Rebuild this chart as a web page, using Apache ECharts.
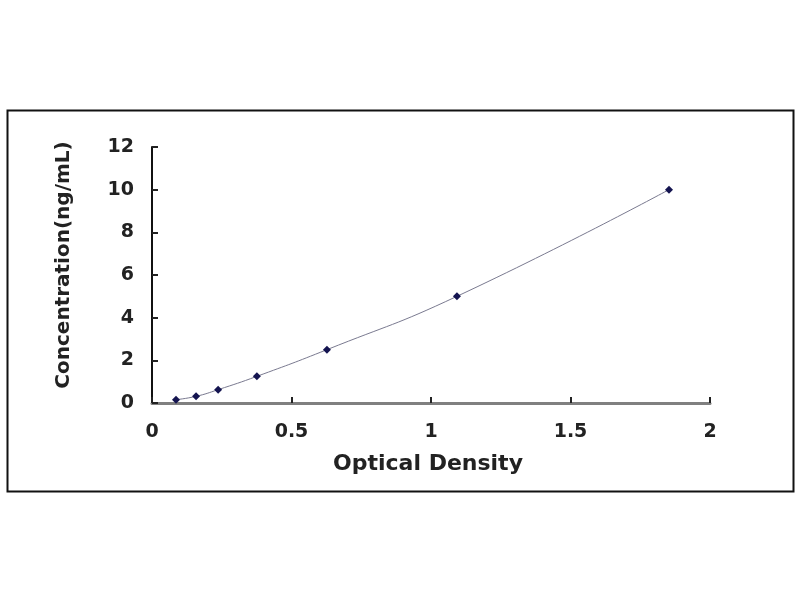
<!DOCTYPE html>
<html><head><meta charset="utf-8">
<script src="https://cdn.jsdelivr.net/npm/echarts@6/dist/echarts.min.js"></script>
<style>html,body{margin:0;padding:0;background:#fff}#c{width:800px;height:600px}</style>
</head><body><div id="c"></div>
<script>
const od = [0.086, 0.158, 0.237, 0.376, 0.627, 1.093, 1.853];
const conc = [0.156, 0.312, 0.625, 1.25, 2.5, 5, 10];
const xTicks = [0, 0.5, 1, 1.5, 2];
const yTicks = [0, 2, 4, 6, 8, 10, 12];

const chart = echarts.init(document.getElementById('c'), null, {renderer: 'canvas'});
const font = '"DejaVu Sans", Arial, sans-serif';
chart.setOption({
  animation: false,
  backgroundColor: '#fff',
  graphic: [{
    type: 'rect', left: 5, top: 108, shape: {width: 786, height: 381},
    style: {fill: 'none', stroke: '#111', lineWidth: 2}, silent: true
  }],
  grid: {left: 152, right: 90, top: 147, bottom: 197},
  xAxis: {
    type: 'value', min: 0, max: 2, interval: 0.5,
    name: 'Optical Density', nameLocation: 'middle', nameGap: 50,
    nameTextStyle: {fontFamily: font, fontWeight: 'bold', fontSize: 22, color: '#222', padding: [0, 6, 0, 0]},
    axisLine: {show: true, lineStyle: {color: '#808080', width: 3}},
    axisTick: {show: true, inside: true, length: 6, lineStyle: {color: '#222', width: 2}},
    axisLabel: {fontFamily: font, fontWeight: 'bold', fontSize: 19, color: '#222', margin: 20,
      formatter: v => String(v)},
    splitLine: {show: false}
  },
  yAxis: {
    type: 'value', min: 0, max: 12, interval: 2,
    name: 'Concentration(ng/mL)', nameLocation: 'middle', nameGap: 78,
    nameTextStyle: {fontFamily: font, fontWeight: 'bold', fontSize: 20, color: '#222', padding: [0, 0, 0, 20]},
    axisLine: {show: true, lineStyle: {color: '#111', width: 2}},
    axisTick: {show: true, inside: true, length: 6, lineStyle: {color: '#222', width: 2}},
    axisLabel: {fontFamily: font, fontWeight: 'bold', fontSize: 19, color: '#222', margin: 18},
    splitLine: {show: false}
  },
  series: [{
    type: 'line', smooth: true,
    data: od.map((x, i) => [x, conc[i]]),
    symbol: 'diamond', symbolSize: 8,
    itemStyle: {color: '#141450'},
    lineStyle: {color: '#7a7a90', width: 1}
  }]
});
</script></body></html>
